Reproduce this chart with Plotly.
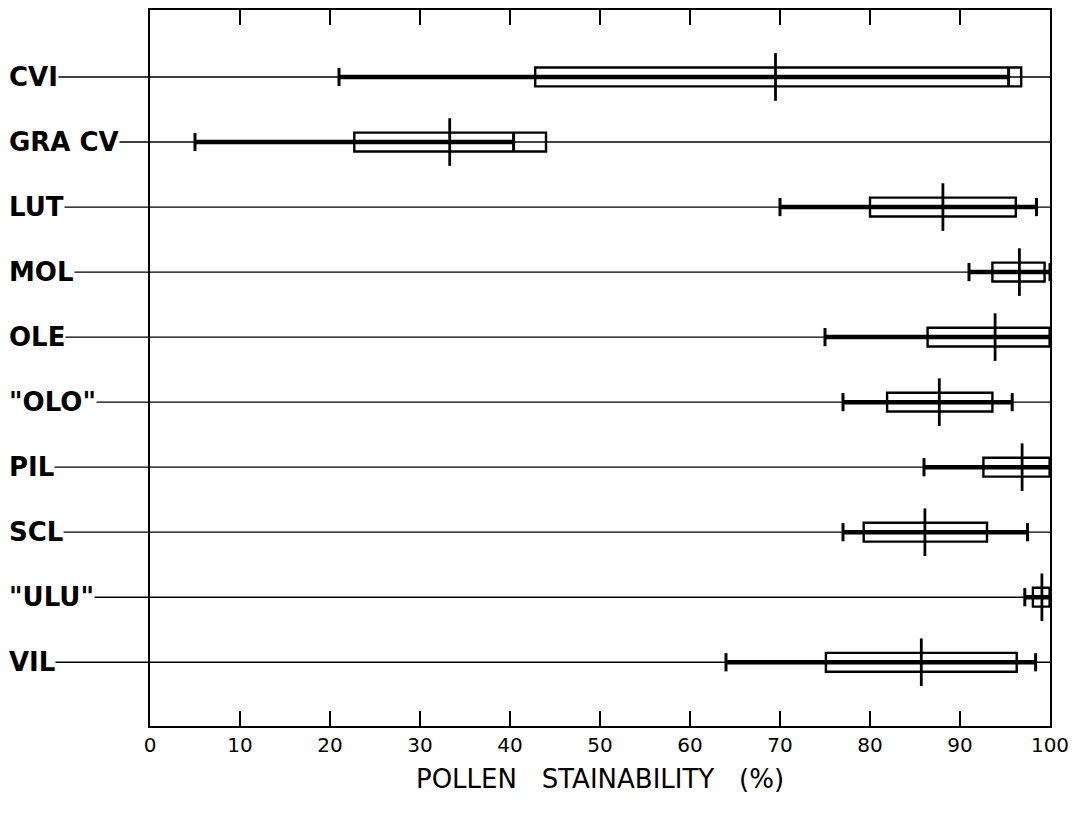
import plotly.graph_objects as go

categories = ['CVI', 'GRA CV', 'LUT', 'MOL', 'OLE', '"OLO"', 'PIL', 'SCL', '"ULU"', 'VIL']
range_min = [21, 5, 70, 91, 75, 77, 86, 77, 97.2, 64]
range_max = [95.4, 40.4, 98.5, 100, 100, 95.8, 100, 97.5, 100, 98.4]
box_low = [42.8, 22.7, 80, 93.6, 86.4, 81.9, 92.6, 79.3, 98.1, 75.1]
box_high = [96.8, 44.0, 96.2, 99.4, 100, 93.6, 100, 93.0, 100, 96.3]
median = [69.5, 33.3, 88.1, 96.6, 93.9, 87.7, 96.9, 86.1, 99.1, 85.7]
x_ticks = list(range(0, 101, 10))

rows = list(range(len(categories)))
fig = go.Figure()

# thin reference lines across the plot
tx, ty = [], []
for i in rows:
    tx += [0, 100, None]
    ty += [i, i, None]
fig.add_trace(go.Scatter(x=tx, y=ty, mode='lines', line=dict(color='black', width=1.3),
                         hoverinfo='skip', showlegend=False))

# thick range lines
rx, ry = [], []
for i in rows:
    rx += [range_min[i], range_max[i], None]
    ry += [i, i, None]
fig.add_trace(go.Scatter(x=rx, y=ry, mode='lines', line=dict(color='black', width=4.5),
                         hoverinfo='skip', showlegend=False))

# end caps
fig.add_trace(go.Scatter(x=range_min + range_max, y=rows + rows, mode='markers',
                         marker=dict(symbol='line-ns', size=13, line=dict(color='black', width=3)),
                         hoverinfo='skip', showlegend=False, cliponaxis=False))

# median marks
fig.add_trace(go.Scatter(x=median, y=rows, mode='markers',
                         marker=dict(symbol='line-ns', size=34, line=dict(color='black', width=2.8)),
                         hoverinfo='skip', showlegend=False, cliponaxis=False))

# boxes
hh = 0.145
for i in rows:
    fig.add_shape(type='rect', xref='x', yref='y', x0=box_low[i], x1=box_high[i],
                  y0=i - hh, y1=i + hh, line=dict(color='black', width=2.4),
                  fillcolor='rgba(0,0,0,0)', layer='above')

# row labels with leader line to the axis
for i in rows:
    fig.add_annotation(x=0, y=i, xref='x', yref='y', text=categories[i],
                       showarrow=True, arrowhead=0, arrowwidth=1.3, arrowcolor='black',
                       ax=-142, ay=0, axref='pixel', ayref='pixel', xanchor='left',
                       standoff=0, startstandoff=0, borderpad=0,
                       font=dict(family='DejaVu Sans', size=26, color='black', weight='bold'))

fig.update_xaxes(range=[0, 100], tickvals=x_ticks, ticktext=[str(v) for v in x_ticks],
                 ticks='inside', ticklen=15, tickwidth=1.5, tickcolor='black',
                 showline=True, linewidth=2, linecolor='black', mirror='allticks',
                 showgrid=False, zeroline=False,
                 tickfont=dict(family='DejaVu Sans', size=20, color='black'),
                 title=dict(text='POLLEN   STAINABILITY   (%)', standoff=14,
                            font=dict(family='DejaVu Sans', size=26, color='black')))
fig.update_yaxes(range=[9.98, -1.03], showticklabels=False, ticks='',
                 showline=True, linewidth=2, linecolor='black', mirror=True,
                 showgrid=False, zeroline=False)

fig.update_layout(width=1062, height=799, margin=dict(l=142, r=20, t=0, b=81),
                  plot_bgcolor='white', paper_bgcolor='white')

fig.write_html('out.html')
